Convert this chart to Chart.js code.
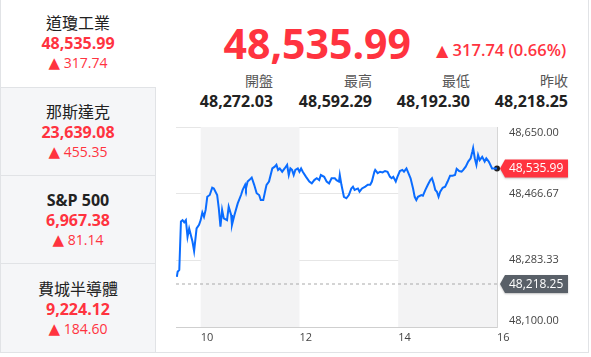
<!DOCTYPE html>
<html>
<head>
<meta charset="utf-8">
<script src="https://cdn.jsdelivr.net/npm/chart.js@4"></script>
<style>
  body { margin: 0; width: 591px; height: 357px; background: #fff; position: relative; overflow: hidden;
         font-family: "Open Sans", "Noto Sans CJK TC", sans-serif; }
  .side { position: absolute; left: 0; top: 0; width: 156px; }
  .cell { position: absolute; left: 0; width: 154px; text-align: center; border-left: 1px solid #e1e3e6; }
  .cell.alt { background: #f5f6f8; border: 1px solid #e1e3e6; }
  .name { font-size: 16px; color: #222; line-height: 20px; }
  .val { font-size: 16px; font-weight: bold; color: #ff333f; line-height: 20px; }
  .chg { font-size: 14px; color: #ff333f; line-height: 20px; }
  .up { font-family: "DejaVu Sans"; font-size: 15px; }
  #big { position: absolute; left: 170px; width: 241px; top: 21px; text-align: right;
         font-size: 41px; font-weight: bold; color: #ff333f; line-height: 44px; }
  #chg { position: absolute; left: 436px; top: 40px; font-size: 16.5px; font-weight: 600; color: #ff333f; line-height: 20px; }
  #chg .up { font-size: 16px; }
  .stat { position: absolute; width: 98px; text-align: right; }
  .stat .lb { font-size: 14px; color: #555; line-height: 18px; }
  .stat .nv { font-size: 16px; font-weight: bold; color: #222; line-height: 22px; }
  #wrap { position: absolute; left: 170px; top: 120px; width: 418px; height: 233px; }
  .frame { position: absolute; left: 0; top: 352px; width: 589px; height: 0; border-top: 1px solid #e1e3e6; }
  .vline { position: absolute; left: 588px; top: 0; width: 0; height: 353px; border-left: 1px solid #e1e3e6; }
</style>
</head>
<body>
<div class="side">
  <div class="cell" style="top:0;height:87px;">
    <div class="name" style="padding-top:13px;">道瓊工業</div>
    <div class="val">48,535.99</div>
    <div class="chg"><span class="up">▲</span> 317.74</div>
  </div>
  <div class="cell alt" style="top:87px;height:87px;">
    <div class="name" style="padding-top:14px;">那斯達克</div>
    <div class="val">23,639.08</div>
    <div class="chg"><span class="up">▲</span> 455.35</div>
  </div>
  <div class="cell alt" style="top:175px;height:87px;">
    <div class="name" style="padding-top:14px;font-weight:bold;">S&amp;P 500</div>
    <div class="val">6,967.38</div>
    <div class="chg"><span class="up">▲</span> 81.14</div>
  </div>
  <div class="cell alt" style="top:263px;height:88px;">
    <div class="name" style="padding-top:15px;">費城半導體</div>
    <div class="val">9,224.12</div>
    <div class="chg"><span class="up">▲</span> 184.60</div>
  </div>
</div>

<div id="big">48,535.99</div>
<div id="chg"><span class="up">▲</span> 317.74 (0.66%)</div>

<div class="stat" style="left:175px;top:72px;"><div class="lb">開盤</div><div class="nv">48,272.03</div></div>
<div class="stat" style="left:274px;top:72px;"><div class="lb">最高</div><div class="nv">48,592.29</div></div>
<div class="stat" style="left:372px;top:72px;"><div class="lb">最低</div><div class="nv">48,192.30</div></div>
<div class="stat" style="left:470px;top:72px;"><div class="lb">昨收</div><div class="nv">48,218.25</div></div>

<div class="frame"></div>
<div class="vline"></div>

<div id="wrap"><canvas id="dowChart" width="418" height="233"></canvas></div>

<script>
// minutes after 9:30 and index level
var minutes = [1, 2, 4, 6, 8, 10, 12, 14, 16, 18, 20, 22, 25, 28, 30, 32, 34, 36, 38, 41,
  44, 46, 50, 52, 54, 56, 58, 62, 64, 67, 68, 71, 75, 79, 81, 84, 85, 87, 89, 92,
  95, 98, 101, 103, 106, 109, 110, 113, 117, 120, 122, 124, 126, 129, 132, 135, 137, 139, 141, 143,
  145, 148, 150, 152, 154, 158, 162, 165, 168, 171, 174, 176, 180, 183, 186, 189, 193, 195, 198, 199,
  201, 204, 207, 210, 213, 215, 217, 221, 223, 226, 230, 233, 236, 238, 241, 242, 245, 248, 251, 254,
  257, 260, 262, 264, 267, 269, 272, 275, 277, 280, 282, 285, 288, 290, 292, 294, 298, 300, 303, 306,
  309, 311, 313, 315, 317, 319, 321, 324, 327, 330, 333, 336, 339, 341, 344, 347, 349, 352, 355, 358,
  360, 361, 363, 365, 367, 369, 372, 375, 377, 380, 384, 387, 390];
var prices = [48238, 48252, 48257, 48390, 48394, 48388, 48394, 48348, 48371, 48353, 48335, 48309, 48371, 48381, 48394, 48415, 48403, 48422, 48458, 48463,
  48483, 48481, 48463, 48426, 48376, 48422, 48399, 48394, 48431, 48408, 48381, 48408, 48440, 48463, 48477, 48491, 48481, 48500, 48504, 48511,
  48491, 48468, 48463, 48449, 48449, 48481, 48491, 48500, 48536, 48541, 48546, 48532, 48536, 48527, 48536, 48546, 48518, 48536, 48532, 48518,
  48532, 48536, 48527, 48536, 48527, 48513, 48500, 48495, 48504, 48509, 48504, 48518, 48513, 48500, 48495, 48509, 48509, 48504, 48500, 48518,
  48491, 48458, 48454, 48463, 48481, 48486, 48477, 48481, 48472, 48481, 48486, 48491, 48491, 48500, 48527, 48532, 48523, 48527, 48525, 48529,
  48527, 48513, 48509, 48513, 48500, 48513, 48529, 48532, 48527, 48536, 48525, 48509, 48481, 48458, 48449, 48458, 48463, 48461, 48477, 48491,
  48504, 48509, 48495, 48477, 48472, 48458, 48472, 48483, 48486, 48500, 48516, 48516, 48518, 48535, 48529, 48527, 48532, 48541, 48555, 48564,
  48582, 48592, 48564, 48546, 48573, 48559, 48568, 48555, 48564, 48555, 48536, 48536, 48535.99];
var prevClose = 48218.25;
var lastPrice = 48535.99;
var yTicks = [48100, 48283.33, 48466.67, 48650];
var xTicks = [10, 12, 14, 16];
var shadedHours = [[10, 12], [14, 16]];

var fmt = function (v) {
  return v.toLocaleString('en-US', { minimumFractionDigits: 2, maximumFractionDigits: 2 });
};

var bandsPlugin = {
  id: 'bands',
  beforeDatasetsDraw: function (chart) {
    var ctx = chart.ctx, a = chart.chartArea, xs = chart.scales.x;
    ctx.save();
    ctx.fillStyle = '#f3f3f4';
    shadedHours.forEach(function (b) {
      var x0 = Math.max(xs.getPixelForValue(b[0]), a.left);
      var x1 = Math.min(xs.getPixelForValue(b[1]), a.right);
      ctx.fillRect(x0, a.top, x1 - x0, a.bottom - a.top);
    });
    ctx.restore();
  }
};

function drawTag(ctx, x, y, text, color) {
  var h = 18, w = 63, tip = 5;
  ctx.save();
  ctx.shadowColor = 'rgba(0,0,0,0.25)';
  ctx.shadowBlur = 2;
  ctx.shadowOffsetY = 1;
  ctx.fillStyle = color;
  ctx.beginPath();
  ctx.moveTo(x, y);
  ctx.lineTo(x + tip, y - h / 2);
  ctx.lineTo(x + tip + w, y - h / 2);
  ctx.lineTo(x + tip + w, y + h / 2);
  ctx.lineTo(x + tip, y + h / 2);
  ctx.closePath();
  ctx.fill();
  ctx.restore();
  ctx.save();
  ctx.fillStyle = '#fff';
  ctx.font = '12px "Open Sans"';
  ctx.textBaseline = 'middle';
  ctx.fillText(text, x + tip + 4, y + 0.5);
  ctx.restore();
}

var tagsPlugin = {
  id: 'tags',
  afterDraw: function (chart) {
    var ys = chart.scales.y, x = chart.chartArea.right + 3;
    drawTag(chart.ctx, x, ys.getPixelForValue(lastPrice), fmt(lastPrice), '#ff333f');
    drawTag(chart.ctx, x, ys.getPixelForValue(prevClose), fmt(prevClose), '#596068');
  }
};

var ctx = document.getElementById('dowChart').getContext('2d');
var dowChart = new Chart(ctx, {
  type: 'line',
  data: {
    datasets: [{
      data: minutes.map(function (m, i) { return { x: 9.5 + m / 60, y: prices[i] }; }),
      borderColor: '#0a6cff',
      borderWidth: 2,
      pointRadius: 0,
      tension: 0
    }, {
      data: [{ x: 9.5, y: prevClose }, { x: 16, y: prevClose }],
      borderColor: '#aaaaaa',
      borderWidth: 1,
      borderDash: [3, 3],
      pointRadius: 0
    }, {
      data: [{ x: 16, y: lastPrice }],
      showLine: false,
      pointRadius: 3,
      pointBackgroundColor: '#222',
      pointBorderWidth: 0,
      clip: false
    }]
  },
  options: {
    responsive: false,
    animation: false,
    events: [],
    layout: { padding: { left: 6, top: 7, right: 0, bottom: 0 } },
    plugins: { legend: { display: false }, tooltip: { enabled: false } },
    scales: {
      x: {
        type: 'linear',
        min: 9.5,
        max: 16,
        afterBuildTicks: function (s) { s.ticks = xTicks.map(function (v) { return { value: v }; }); },
        afterFit: function (s) { s.height = 26; s.paddingLeft = 0; s.paddingRight = 0; },
        grid: { display: false, drawTicks: false },
        border: { display: true, color: '#cfcfcf' },
        ticks: { align: 'start', padding: 4, color: '#444', font: { size: 11, family: 'Open Sans' } }
      },
      y: {
        position: 'right',
        min: 48100,
        max: 48650,
        afterBuildTicks: function (s) { s.ticks = yTicks.map(function (v) { return { value: v }; }); },
        afterFit: function (s) { s.width = 91; s.paddingTop = 0; s.paddingBottom = 0; },
        grid: { color: '#e6e6e6', drawTicks: false },
        border: { display: true, color: '#d6d6d6' },
        ticks: {
          padding: 12,
          color: '#444',
          font: { size: 11, family: 'Open Sans', lineHeight: 1.05 },
          callback: function (v, i) {
            var t = fmt(v);
            if (i === 0) return [t, ''];
            if (i === yTicks.length - 1) return ['', t];
            return t;
          }
        }
      }
    }
  },
  plugins: [bandsPlugin, tagsPlugin]
});
</script>
</body>
</html>
